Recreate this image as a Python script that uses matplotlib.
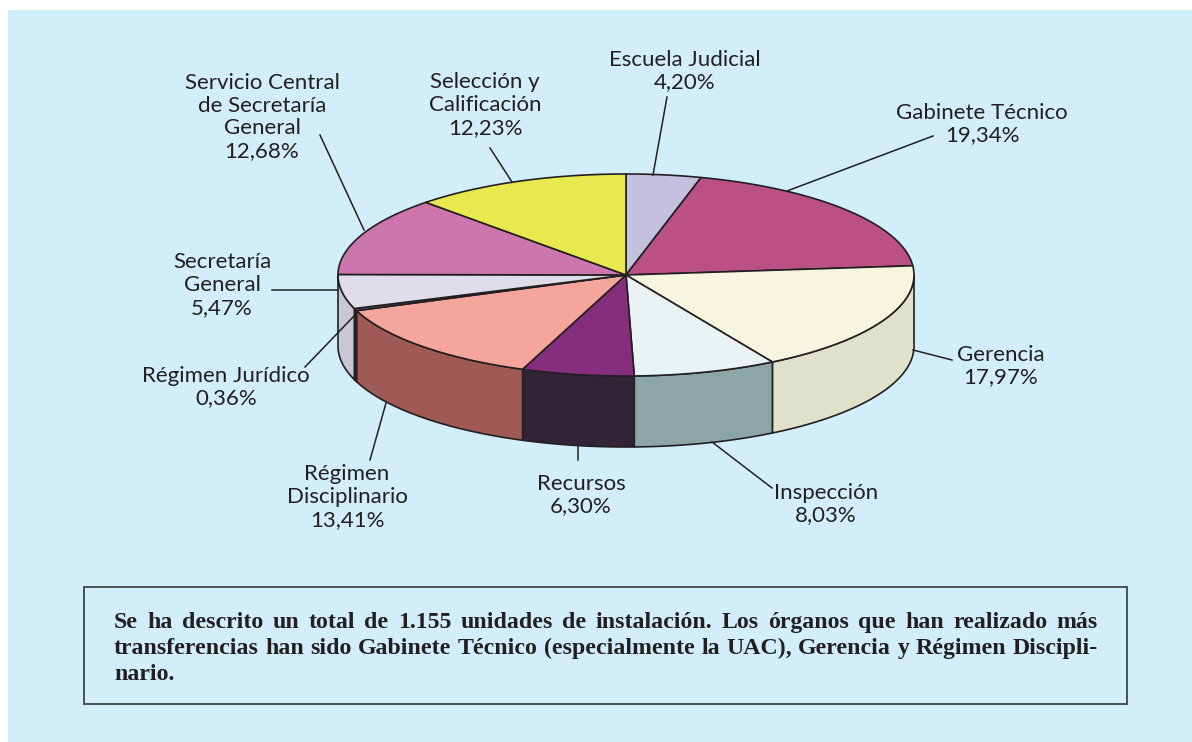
import numpy as np
import matplotlib
matplotlib.use("Agg")
import matplotlib.pyplot as plt
from matplotlib.patches import Rectangle

# percentages, clockwise from the top of the pie
names = ["Escuela Judicial", "Gabinete Técnico", "Gerencia", "Inspección", "Recursos",
         "Régimen\nDisciplinario", "Régimen Jurídico", "Secretaría\nGeneral",
         "Servicio Central\nde Secretaría\nGeneral", "Selección y\nCalificación"]
values = [4.20, 19.34, 17.97, 8.03, 6.30, 13.41, 0.36, 5.47, 12.68, 12.23]
top_colors = ["#c3c0e0", "#bb5084", "#f6f5de", "#e9f3f3", "#842e7d",
              "#f5a59c", "#46598c", "#dfdde9", "#cd76ae", "#e8e84f"]
side_colors = ["#9c99b3", "#8f3d64", "#e0e1cb", "#8ca5a5", "#332337",
               "#a05a55", "#2f2d3f", "#c8c7d4", "#a05a88", "#b5b53d"]

# label centres and leader lines
label_pos = [(685, 71), (982, 124), (1001, 366), (826, 504), (581, 495),
             (347, 497), (226, 387), (222, 285), (262, 117), (485, 105)]
leaders = [((667, 97), (653, 175)), ((933, 136), (787, 191)), ((952, 360), (913, 350)),
           ((712, 442), (772, 488)), ((578, 446), (578, 460)), ((386, 403), (370, 460)),
           ((355, 315), (305, 367)), ((272, 290), (338, 290)), ((320, 135), (364, 230)),
           ((490, 148), (512, 182))]

note_lines = ["Se ha descrito un total de 1.155 unidades de instalación. Los órganos que han realizado más",
              "transferencias han sido Gabinete Técnico (especialmente la UAC), Gerencia y Régimen Discipli-",
              "nario."]

cx, cy, rx, ry, depth = 626, 275, 288, 101, 71
ink = "#231f20"
bg = "#d2eefb"


def rim(a, b, n=80):
    t = np.radians(np.linspace(a, b, n))
    return cx + rx * np.sin(t), cy - ry * np.cos(t)


fig = plt.figure(figsize=(11.92, 7.42), dpi=100)
ax = fig.add_axes([0, 0, 1, 1])
ax.set_xlim(0, 1192)
ax.set_ylim(742, 0)
ax.axis("off")
ax.add_patch(Rectangle((8, 10), 1184, 732, fc=bg, ec="none", zorder=0))

edges = np.concatenate([[0], np.cumsum(values)]) / sum(values) * 360

# side walls, only the front half of the rim shows
for i in range(len(values)):
    a, b = max(edges[i], 90), min(edges[i + 1], 270)
    if a >= b:
        continue
    x, y = rim(a, b)
    ax.fill(np.r_[x, x[::-1]], np.r_[y, y[::-1] + depth], fc=side_colors[i],
            ec=ink, lw=1.2, joinstyle="round", zorder=2)

# top face
for i in range(len(values)):
    x, y = rim(edges[i], edges[i + 1])
    ax.fill(np.r_[cx, x], np.r_[cy, y], fc=top_colors[i], ec=ink, lw=1.2,
            joinstyle="round", zorder=3)

for p, q in leaders:
    ax.plot([p[0], q[0]], [p[1], q[1]], color=ink, lw=1.1, zorder=4)

for name, v, pos in zip(names, values, label_pos):
    txt = name + "\n" + f"{v:.2f}".replace(".", ",") + "%"
    ax.text(pos[0], pos[1], txt, family="Lato", fontsize=16, color=ink, ha="center",
            va="center", linespacing=1.18, zorder=5)

ax.add_patch(Rectangle((84, 587), 1043, 117, fc="none", ec="#4a4f52", lw=1.4, zorder=4))

# justified note, word by word
fig.canvas.draw()
rend = fig.canvas.get_renderer()
left, right = 114, 1098
baselines = [628, 654, 680]
for k, (line, base) in enumerate(zip(note_lines, baselines)):
    words = line.split(" ")
    parts = [ax.text(left, base, w, family="Liberation Serif", weight="bold", fontsize=17.2,
                     color=ink, va="baseline", zorder=5) for w in words]
    widths = [p.get_window_extent(rend).width for p in parts]
    gap = (right - left - sum(widths)) / max(len(words) - 1, 1) if k < 2 else 0
    x = left
    for p, w in zip(parts, widths):
        p.set_x(x)
        x += w + gap

fig.savefig("out.png", dpi=100, facecolor="white")
